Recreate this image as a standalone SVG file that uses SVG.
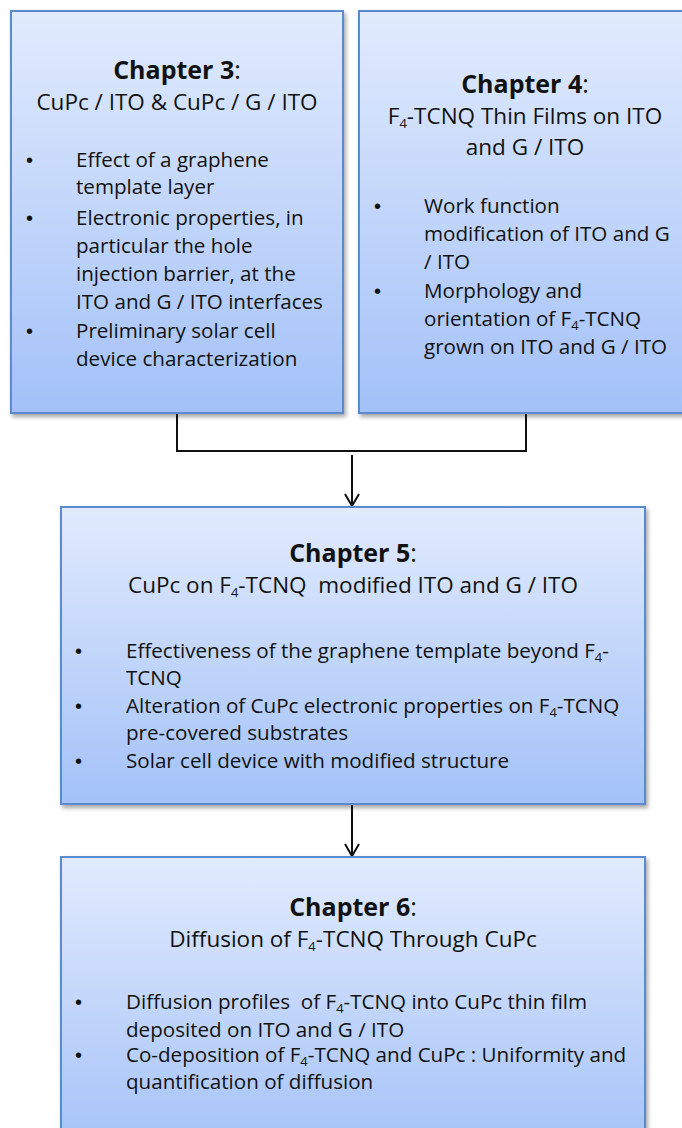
<svg xmlns="http://www.w3.org/2000/svg" width="682" height="1128" viewBox="0 0 682 1128">
<style>
.box{fill:url(#g);stroke:#5a8ad0;stroke-width:2;filter:url(#sh)}
text{font-family:"Open Sans","Noto Sans","Liberation Sans",sans-serif;fill:#111;white-space:pre}
.t{font-size:25px;font-weight:bold;text-anchor:middle}
.s{font-size:22.5px;text-anchor:middle}
.b{font-size:20.6px}
.d{font-size:20px;font-family:"Liberation Sans",sans-serif}
.sub{font-size:13px}
.c{fill:none;stroke:#111;stroke-width:2}
</style>
<defs>
<linearGradient id="g" x1="0" y1="0" x2="0" y2="1">
<stop offset="0" stop-color="#e1ebfd"/>
<stop offset="1" stop-color="#a3c1f8"/>
</linearGradient>
<filter id="sh" x="-5%" y="-5%" width="115%" height="115%">
<feDropShadow dx="2" dy="3" stdDeviation="2" flood-color="#000" flood-opacity="0.35"/>
</filter>
<marker id="ar" viewBox="0 0 14 16" refX="13" refY="8" markerWidth="14" markerHeight="16" markerUnits="userSpaceOnUse" orient="auto">
<path d="M1,1 L13,8 L1,15" fill="none" stroke="#111" stroke-width="2"/>
</marker>
</defs>

<g id="connectors">
<path class="c" d="M177,413 V451 H526 V413"/>
<path class="c" d="M352,455 V506" marker-end="url(#ar)"/>
<path class="c" d="M352,805 V856" marker-end="url(#ar)"/>
</g>

<g id="chapter3">
<rect class="box" x="11" y="11" width="332" height="402"/>
<text class="t" x="177" y="79">Chapter 3<tspan font-weight="normal">:</tspan></text>
<text class="s" x="177" y="110">CuPc / ITO &amp; CuPc / G / ITO</text>
<text class="d" x="26" y="167">•</text>
<text class="b" x="76" y="167">Effect of a graphene</text>
<text class="b" x="76" y="194">template layer</text>
<text class="d" x="26" y="225">•</text>
<text class="b" x="76" y="225">Electronic properties, in</text>
<text class="b" x="76" y="253">particular the hole</text>
<text class="b" x="76" y="281">injection barrier, at the</text>
<text class="b" x="76" y="309">ITO and G / ITO interfaces</text>
<text class="d" x="26" y="338">•</text>
<text class="b" x="76" y="338">Preliminary solar cell</text>
<text class="b" x="76" y="366">device characterization</text>
</g>

<g id="chapter4">
<rect class="box" x="359" y="11" width="332" height="402"/>
<text class="t" x="525" y="93">Chapter 4<tspan font-weight="normal">:</tspan></text>
<text class="s" x="525" y="124">F<tspan class="sub" dy="4">4</tspan><tspan dy="-4">-TCNQ Thin Films on ITO</tspan></text>
<text class="s" x="525" y="155">and G / ITO</text>
<text class="d" x="374" y="213">•</text>
<text class="b" x="424" y="213">Work function</text>
<text class="b" x="424" y="241">modification of ITO and G</text>
<text class="b" x="424" y="269">/ ITO</text>
<text class="d" x="374" y="298">•</text>
<text class="b" x="424" y="298">Morphology and</text>
<text class="b" x="424" y="326">orientation of F<tspan class="sub" dy="4">4</tspan><tspan dy="-4">-TCNQ</tspan></text>
<text class="b" x="424" y="354">grown on ITO and G / ITO</text>
</g>

<g id="chapter5">
<rect class="box" x="61" y="507" width="584" height="297"/>
<text class="t" x="353" y="562">Chapter 5<tspan font-weight="normal">:</tspan></text>
<text class="s" x="353" y="593">CuPc on F<tspan class="sub" dy="4">4</tspan><tspan dy="-4">-TCNQ  modified ITO and G / ITO</tspan></text>
<text class="d" x="75" y="658">•</text>
<text class="b" x="126" y="658">Effectiveness of the graphene template beyond F<tspan class="sub" dy="4">4</tspan><tspan dy="-4">-</tspan></text>
<text class="b" x="126" y="685">TCNQ</text>
<text class="d" x="75" y="713">•</text>
<text class="b" x="126" y="713">Alteration of CuPc electronic properties on F<tspan class="sub" dy="4">4</tspan><tspan dy="-4">-TCNQ</tspan></text>
<text class="b" x="126" y="740">pre-covered substrates</text>
<text class="d" x="75" y="768">•</text>
<text class="b" x="126" y="768">Solar cell device with modified structure</text>
</g>

<g id="chapter6">
<rect class="box" x="61" y="857" width="584" height="300"/>
<text class="t" x="353" y="916">Chapter 6<tspan font-weight="normal">:</tspan></text>
<text class="s" x="353" y="947">Diffusion of F<tspan class="sub" dy="4">4</tspan><tspan dy="-4">-TCNQ Through CuPc</tspan></text>
<text class="d" x="75" y="1009">•</text>
<text class="b" x="126" y="1009">Diffusion profiles  of F<tspan class="sub" dy="4">4</tspan><tspan dy="-4">-TCNQ into CuPc thin film</tspan></text>
<text class="b" x="126" y="1037">deposited on ITO and G / ITO</text>
<text class="d" x="75" y="1062">•</text>
<text class="b" x="126" y="1062">Co-deposition of F<tspan class="sub" dy="4">4</tspan><tspan dy="-4">-TCNQ and CuPc : Uniformity and</tspan></text>
<text class="b" x="126" y="1089">quantification of diffusion</text>
</g>
</svg>
